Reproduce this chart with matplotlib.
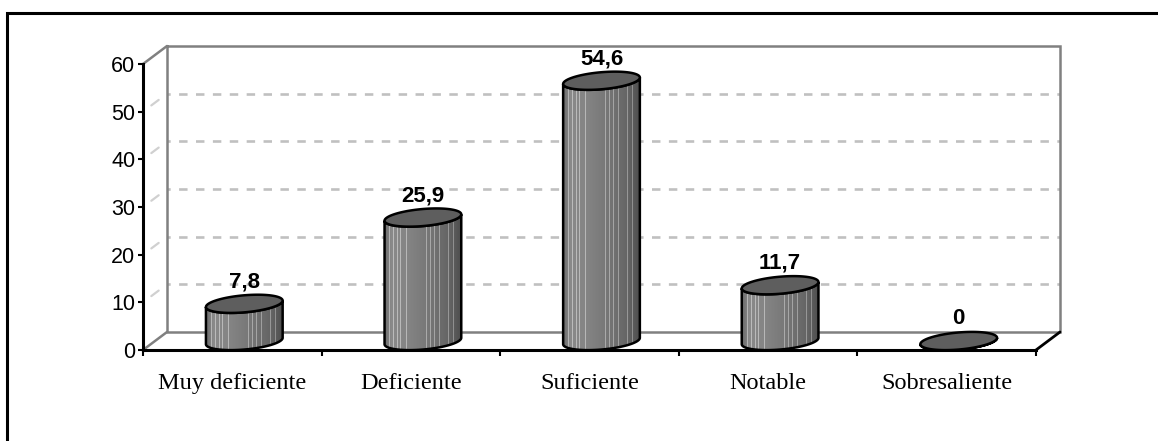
import numpy as np
import matplotlib
matplotlib.use("Agg")
import matplotlib.pyplot as plt
from matplotlib.patches import Polygon
from matplotlib.transforms import Affine2D, IdentityTransform
from matplotlib.lines import Line2D

plt.rcParams['font.family'] = ['Liberation Sans', 'DejaVu Sans']

# ---- data ----
categories = ["Muy deficiente", "Deficiente", "Suficiente", "Notable", "Sobresaliente"]
values = [7.8, 25.9, 54.6, 11.7, 0]
y_ticks = [0, 10, 20, 30, 40, 50, 60]

# ---- figure / axes (front plane) ----
W, H, DPI = 1158, 441, 100
fig = plt.figure(figsize=(W / DPI, H / DPI), dpi=DPI)
fig.patch.set_facecolor('white')
ax = fig.add_axes([143 / W, (H - 350) / H, (1036 - 143) / W, (350 - 64) / H])
n = len(categories)
ax.set_xlim(-0.5, n - 0.5)
ax.set_ylim(y_ticks[0], y_ticks[-1])
ax.set_autoscale_on(False)
ax.patch.set_visible(False)
for s in ['top', 'right']:
    ax.spines[s].set_visible(False)
for s in ['left', 'bottom']:
    ax.spines[s].set_linewidth(2.2)
    ax.spines[s].set_color('black')
    ax.spines[s].set_zorder(2.5)

# y axis
ax.set_yticks(y_ticks)
ax.tick_params(axis='y', length=3.6, width=1.5, pad=2, labelsize=15.5, colors='black')
# x axis: boundary ticks + centred category labels
ax.set_xticks(np.arange(-0.5, n, 1.0))
ax.set_xticklabels([])
ax.tick_params(axis='x', which='major', length=4.5, width=1.5, direction='out', color='black')
ax.set_xticks(np.arange(n), minor=True)
ax.set_xticklabels(categories, minor=True, fontsize=17.5, family=['Liberation Serif', 'DejaVu Serif'])
ax.tick_params(axis='x', which='minor', length=0, pad=16.5)

# ---- 3D walls ----
DX, DY = 24, 18  # depth offset in pixels
back = ax.transData + Affine2D().translate(DX, DY)
x0, x1 = -0.5, n - 0.5
y0, y1 = y_ticks[0], y_ticks[-1]
for v in y_ticks[1:-1]:
    ax.plot([x0, x1], [v, v], transform=back, color='#c0c0c0', lw=1.9,
            ls=(2, (3.2, 3.2)), zorder=0.9, clip_on=False)
    ax.annotate('', xy=(x0, v), xytext=(DX, DY), textcoords='offset pixels',
                arrowprops=dict(arrowstyle='-', color='#d0d0d0', lw=1.6,
                                shrinkA=7.5, shrinkB=7.5), zorder=0.9)
ax.plot([x0, x1, x1, x0, x0], [y1, y1, y0, y0, y1], transform=back,
        color='#808080', lw=1.8, zorder=1, clip_on=False, solid_joinstyle='miter')
for (xx, yy, col) in [(x0, y1, '#808080'), (x0, y0, '#808080'), (x1, y0, 'black')]:
    ax.annotate('', xy=(xx, yy), xytext=(DX, DY), textcoords='offset pixels',
                arrowprops=dict(arrowstyle='-', color=col, lw=1.8 if col != 'black' else 2.0,
                                shrinkA=0, shrinkB=0), zorder=1)

# ---- cylinders ----
A, B, TH = 38.5, 8.5, np.deg2rad(5)
ct, st = np.cos(TH), np.sin(TH)


def ell(c, t):
    x = A * np.cos(t) * ct - B * np.sin(t) * st
    y = A * np.cos(t) * st + B * np.sin(t) * ct
    return np.column_stack([c[0] + x, c[1] + y])


t_r = np.arctan2(-B * st, A * ct)
t_l = t_r + np.pi

# body shading profile
NCOL = 77
u = np.linspace(0, 1, NCOL)
shade = np.interp(u, [0, 0.1, 0.3, 0.6, 0.85, 1.0], [0.40, 0.54, 0.52, 0.46, 0.39, 0.30])
for f in [0.08, 0.13, 0.18, 0.23, 0.29, 0.55, 0.61, 0.66, 0.73, 0.83, 0.90]:
    k = int(round(f * (NCOL - 1)))
    shade[k] = min(shade[k] + 0.2, 0.8)
img = np.repeat(shade[None, :, None], 3, axis=2)

inv = ax.transData.inverted()
for i, v in enumerate(values):
    base = ax.transData.transform((i, 0)) + np.array([DX / 2, DY / 2])
    top = ax.transData.transform((i, v)) + np.array([DX / 2, DY / 2])
    verts = np.vstack([ell(base, np.linspace(t_l, t_l + np.pi, 80)),
                       ell(top, np.linspace(t_l + np.pi, t_l, 80))])
    body = Polygon(verts, closed=True, transform=IdentityTransform(), fc='none',
                   ec='black', lw=1.8, zorder=3.5, clip_on=False)
    ax.add_patch(body)
    if v > 0:
        p0 = inv.transform((base[0] - A - 1, base[1] - B - 3))
        p1 = inv.transform((base[0] + A + 1, top[1] + B + 3))
        im = ax.imshow(img, extent=[p0[0], p1[0], p0[1], p1[1]], aspect='auto',
                       interpolation='nearest', zorder=3)
        im.set_clip_path(body)
    cap = Polygon(ell(top, np.linspace(0, 2 * np.pi, 120)), closed=True,
                  transform=IdentityTransform(), fc='#5e5e5e', ec='black', lw=1.8,
                  zorder=4, clip_on=False)
    ax.add_patch(cap)
    lbl = f"{v:g}".replace('.', ',')
    ax.annotate(lbl, xy=(i, v), xytext=(DX / 2, DY / 2 + 22), textcoords='offset pixels',
                ha='center', va='center', fontsize=16, fontweight='bold', zorder=5)

# ---- outer frame (top and left edges) ----
fig.add_artist(Line2D([7.5 / W, 7.5 / W, 1.0], [0.0, 1 - 12.5 / H, 1 - 12.5 / H],
                      transform=fig.transFigure, color='black', lw=2.2,
                      solid_joinstyle='miter'))

fig.savefig('out.png', dpi=DPI, facecolor='white')
